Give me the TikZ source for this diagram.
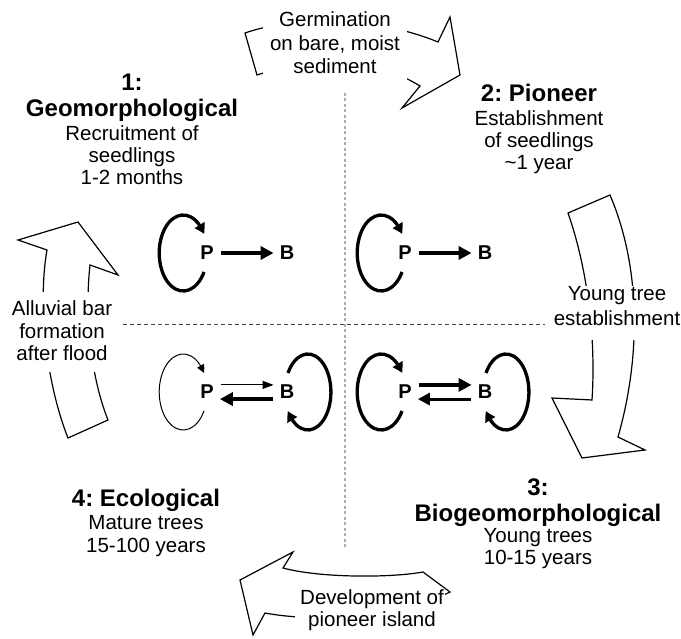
\documentclass[tikz,border=0pt]{standalone}
\usepackage{fontspec}
\setmainfont{Liberation Sans}
\usetikzlibrary{arrows.meta,bending}
\frenchspacing
\begin{document}
\begin{tikzpicture}[x=1pt,y=-1pt,
  reg/.style={font=\fontsize{20.5}{23}\selectfont, anchor=base, inner sep=0pt},
  hd/.style={font=\fontsize{24}{27}\selectfont\bfseries, anchor=base, inner sep=0pt},
  wbox/.style={fill=white, draw=none, inner sep=0pt},
  big/.style={draw=black, fill=white, line width=1.2pt, line join=miter},
  pb/.style={font=\fontsize{20}{22}\selectfont\bfseries, inner sep=0pt},
  thkA/.style={line width=3.5pt, -{Triangle[length=13pt,width=13pt]}, shorten <=7pt, shorten >=6pt},
  medA/.style={line width=3pt, -{Triangle[length=12pt,width=12pt]}, shorten <=7pt, shorten >=6pt},
  thnA/.style={line width=1.1pt, -{Triangle[length=11pt,width=8pt]}, shorten <=7pt, shorten >=6pt},
  thkL/.style={line width=3.3pt, -{Triangle[length=10pt,width=11pt,bend]}},
  thnL/.style={line width=1pt, -{Triangle[length=8pt,width=8pt,bend]}},
  vdiv/.style={draw=black!32, line width=1.4pt, dash pattern=on 3pt off 2.5pt},
  hdiv/.style={draw=black!75, line width=1pt, dash pattern=on 4pt off 3pt},
  ploop/.style={start angle=-30, end angle=-330, x radius=24pt, y radius=38pt},
  bloop/.style={start angle=150, end angle=-150, x radius=23pt, y radius=38pt},
]
\useasboundingbox (0,0) rectangle (681,639);

% dividers
\coordinate (vt) at (345,93);
\coordinate (vb) at (345,548);
\coordinate (hl) at (123,325);
\coordinate (hr) at (545,325);
\draw[vdiv] (vt) -- (vb);
\draw[hdiv] (hl) -- (hr);

% top arrow
\draw[big] (245,33) .. controls (300,14) and (380,18) .. (438,42)
  -- (450,17) -- (460,75) -- (402,108) -- (420,86)
  .. controls (370,55) and (310,58) .. (257,75) -- cycle;
% right arrow
\draw[big] (610,195) -- (568,213) .. controls (588,270) and (596,340) .. (592,400)
  -- (552,398) -- (582,458) -- (645,450) -- (618,437)
  .. controls (640,360) and (642,270) .. (610,195) -- cycle;
% left arrow
\draw[big] (108,420) -- (68,438) .. controls (45,380) and (38,300) .. (47,250)
  -- (18,240) -- (78,222) -- (118,275) -- (90,265)
  .. controls (84,320) and (92,380) .. (108,420) -- cycle;
% bottom arrow
\draw[big] (450,592) -- (423,572) .. controls (390,578) and (320,578) .. (283,568)
  -- (293,552) -- (240,580) -- (253,635) -- (265,613)
  .. controls (330,625) and (410,612) .. (450,592) -- cycle;

% label boxes
\node[wbox, minimum width=144pt, minimum height=74pt] (gbox) at (335,44) {};
\node[wbox, minimum width=128pt, minimum height=54pt] (ybox) at (617,313) {};
\node[wbox, minimum width=120pt, minimum height=80pt] (abox) at (60,332) {};
\node[wbox, minimum width=150pt, minimum height=44pt] (dbox) at (370,612) {};

% label texts
\node[reg] (g1) at (335,27) {Germination};
\node[reg] (g2) at (335,50.5) {on bare, moist};
\node[reg] (g3) at (335,74) {sediment};
\node[reg] (y1) at (617,301) {Young tree};
\node[reg] (y2) at (617,326) {establishment};
\node[reg] (a1) at (62,315.3) {Alluvial bar};
\node[reg] (a2) at (62,338.3) {formation};
\node[reg] (a3) at (62,360.3) {after flood};
\node[reg] (d1) at (372,604.3) {Development of};
\node[reg] (d2) at (372,626) {pioneer island};

% phase blocks
\node[hd] (s1a) at (132,90.6) {1:};
\node[hd] (s1b) at (132,116.6) {Geomorphological};
\node[reg] (s1c) at (132,140.3) {Recruitment of};
\node[reg] (s1d) at (132,162.3) {seedlings};
\node[reg] (s1e) at (132,184.3) {1-2 months};

\node[hd] (s2a) at (539,101.6) {2: Pioneer};
\node[reg] (s2b) at (539,125.3) {Establishment};
\node[reg] (s2c) at (539,147.3) {of seedlings};
\node[reg] (s2d) at (539,169.3) {\textasciitilde 1 year};

\node[hd] (s3a) at (538,495.6) {3:};
\node[hd] (s3b) at (538,521.6) {Biogeomorphological};
\node[reg] (s3c) at (538,542.3) {Young trees};
\node[reg] (s3d) at (538,564.3) {10-15 years};

\node[hd] (s4a) at (146,506.6) {4: Ecological};
\node[reg] (s4b) at (146,529.3) {Mature trees};
\node[reg] (s4c) at (146,552.3) {15-100 years};

% P / B nodes
\node[pb] (P1) at (207,253) {P};
\node[pb] (B1) at (287,253) {B};
\node[pb] (P2) at (405,253) {P};
\node[pb] (B2) at (485,253) {B};
\node[pb] (P3) at (207,392) {P};
\node[pb] (B3) at (287,392) {B};
\node[pb] (P4) at (405,392) {P};
\node[pb] (B4) at (485,392) {B};

% interactions
\draw[thkA] (P1) -- (B1);
\draw[thkA] (P2) -- (B2);
\draw[thnA] (P3.north east) -- (B3.north west);
\draw[thkA] (B3.south west) -- (P3.south east);
\draw[thkA] (P4.north east) -- (B4.north west);
\draw[medA] (B4.south west) -- (P4.south east);

% self loops
\draw[thkL] (P1) ++(-3,19) arc[ploop];
\draw[thkL] (P2) ++(-3,19) arc[ploop];
\draw[thnL] (P3) ++(-3,19) arc[ploop];
\draw[thkL] (P4) ++(-3,19) arc[ploop];
\draw[thkL] (B3) ++(1,-19) arc[bloop];
\draw[thkL] (B4) ++(1,-19) arc[bloop];
\end{tikzpicture}
\end{document}
